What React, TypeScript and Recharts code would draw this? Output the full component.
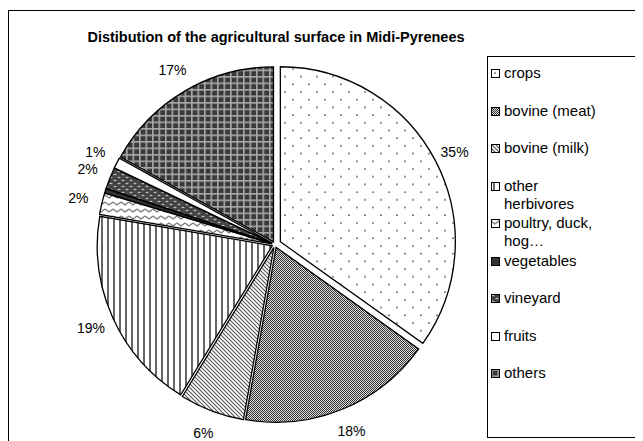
import React from "react"
import { PieChart, Pie, Cell, Sector, Legend } from "recharts"

const categories = [
  "crops",
  "bovine (meat)",
  "bovine (milk)",
  "other herbivores",
  "poultry, duck, hog…",
  "vegetables",
  "vineyard",
  "fruits",
  "others",
]
const shares = [35, 18, 6, 19, 2, 0.4, 2, 1, 17]

const patternIds = ["p-crops", "p-meat", "p-milk", "p-herb", "p-poultry", "p-veg", "p-vine", "p-fruit", "p-others"]

const data = categories.map((name, i) => ({ name, value: shares[i] }))

const RAD = Math.PI / 180
const FONT = "'Liberation Sans', Arial, sans-serif"

const renderSlice = (props: any) => {
  const idx = categories.indexOf(props.name ?? props.payload?.name)
  const e = idx === 0 ? 6 : 3
  const dx = e * Math.cos(-props.midAngle * RAD)
  const dy = e * Math.sin(-props.midAngle * RAD)
  return (
    <Sector
      cx={props.cx + dx}
      cy={props.cy + dy}
      innerRadius={props.innerRadius}
      outerRadius={props.outerRadius}
      startAngle={props.startAngle}
      endAngle={props.endAngle}
      fill={props.fill}
      stroke="#000"
      strokeWidth={1.3}
    />
  )
}

const renderLabel = (p: any) => {
  if (p.percent < 0.005) return null
  const r = p.outerRadius + 27
  const x = p.cx + r * Math.cos(-p.midAngle * RAD)
  const y = p.cy + r * Math.sin(-p.midAngle * RAD)
  return (
    <text x={x} y={y} fill="#000" fontSize={14} fontFamily={FONT} textAnchor="middle" dominantBaseline="central">
      {Math.round(p.percent * 100)}%
    </text>
  )
}

// legend drawn in the original category order (recharts would sort it)
const renderLegend = () => (
  <div
    style={{
      boxSizing: "border-box",
      width: 149,
      height: 382,
      border: "1px solid #000",
      background: "#fff",
      paddingTop: 7,
      paddingLeft: 3,
      fontFamily: FONT,
      fontSize: 15,
      lineHeight: "18px",
      color: "#000",
    }}
  >
    {categories.map((name, i) => (
      <div key={name} style={{ height: 37.5, display: "flex", alignItems: "flex-start" }}>
        <svg width={9} height={9} style={{ marginTop: 5, marginRight: 4, flex: "none" }}>
          <rect x={0.5} y={0.5} width={8} height={8} fill={`url(#${patternIds[i]})`} stroke="#000" strokeWidth={1} />
        </svg>
        <div style={{ width: 104 }}>{name}</div>
      </div>
    ))}
  </div>
)

export default function App() {
  return (
    <div
      style={{
        position: "relative",
        marginTop: 2,
        width: 632,
        height: 440,
        border: "1px solid #000",
        background: "#fff",
      }}
    >
      <div
        style={{
          position: "absolute",
          left: 0,
          top: 18,
          width: 534,
          textAlign: "center",
          fontFamily: FONT,
          fontWeight: "bold",
          fontSize: 14.5,
          color: "#000",
        }}
      >
        Distibution of the agricultural surface in Midi-Pyrenees
      </div>
      <PieChart width={632} height={440} style={{ position: "absolute", left: 0, top: 0 }}>
        <defs>
          <pattern id="p-crops" patternUnits="userSpaceOnUse" width={16} height={15.4}>
            <rect width={16} height={15.4} fill="#fff" />
            <circle cx={4} cy={4} r={0.9} fill="#555" />
            <circle cx={12} cy={11.7} r={0.9} fill="#555" />
          </pattern>
          <pattern id="p-meat" patternUnits="userSpaceOnUse" width={2} height={2}>
            <rect width={2} height={2} fill="#ddd" />
            <rect width={1} height={1} fill="#333" />
            <rect x={1} y={1} width={1} height={1} fill="#333" />
          </pattern>
          <pattern id="p-milk" patternUnits="userSpaceOnUse" width={4} height={4}>
            <rect width={4} height={4} fill="#fff" />
            <path d="M-1,-1 L5,5 M-1,3 L1,5 M3,-1 L5,1" stroke="#555" strokeWidth={1.1} />
          </pattern>
          <pattern id="p-herb" patternUnits="userSpaceOnUse" width={6} height={6}>
            <rect width={6} height={6} fill="#fff" />
            <rect x={2} width={2} height={6} fill="#666" />
          </pattern>
          <pattern id="p-poultry" patternUnits="userSpaceOnUse" width={8} height={7}>
            <rect width={8} height={7} fill="#fff" />
            <path d="M0,2 L4,5 L8,2" stroke="#777" strokeWidth={1.3} fill="none" />
          </pattern>
          <pattern id="p-veg" patternUnits="userSpaceOnUse" width={4} height={4}>
            <rect width={4} height={4} fill="#333" />
          </pattern>
          <pattern id="p-vine" patternUnits="userSpaceOnUse" width={8} height={6}>
            <rect width={8} height={6} fill="#444" />
            <ellipse cx={2} cy={1.5} rx={1.6} ry={0.8} fill="#bbb" />
            <ellipse cx={6} cy={4.5} rx={1.6} ry={0.8} fill="#bbb" />
          </pattern>
          <pattern id="p-fruit" patternUnits="userSpaceOnUse" width={4} height={4}>
            <rect width={4} height={4} fill="#fff" />
          </pattern>
          <pattern id="p-others" patternUnits="userSpaceOnUse" width={6.5} height={6.5}>
            <rect width={6.5} height={6.5} fill="#3a3a3a" />
            <rect width={1.6} height={6.5} fill="#a8a8a8" />
            <rect width={6.5} height={1.6} fill="#a8a8a8" />
          </pattern>
        </defs>
        <Pie
          data={data}
          dataKey="value"
          nameKey="name"
          cx={261}
          cy={228.5}
          outerRadius={175}
          startAngle={90}
          endAngle={-270}
          isAnimationActive={false}
          label={renderLabel}
          labelLine={false}
          activeShape={renderSlice}
          inactiveShape={renderSlice}
          shape={renderSlice}
        >
          {data.map((d, i) => (
            <Cell key={d.name} fill={`url(#${patternIds[i]})`} />
          ))}
        </Pie>
        <Legend
          layout="vertical"
          align="right"
          verticalAlign="top"
          content={renderLegend}
          wrapperStyle={{ left: 478, top: 45, width: 149, height: 382 }}
        />
      </PieChart>
    </div>
  )
}
